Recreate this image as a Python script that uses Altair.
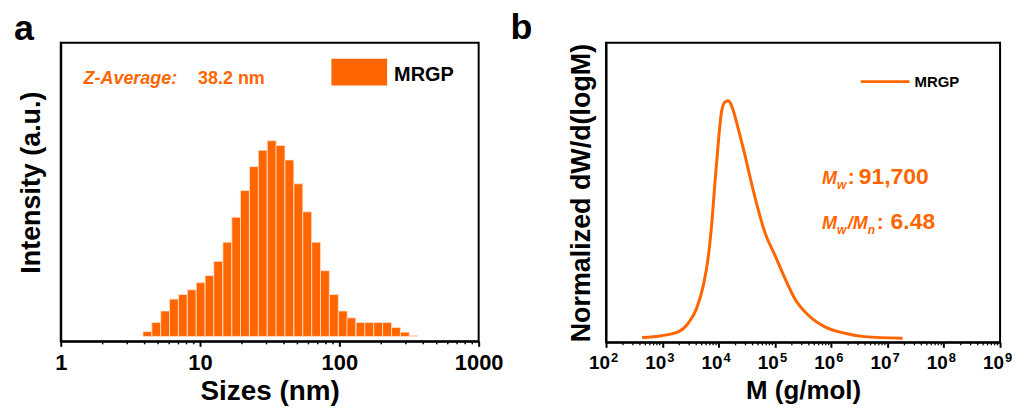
import altair as alt
import pandas as pd

ORANGE = "#FF6600"
FONT = "Liberation Sans"

# ---------------- data: panel a (DLS size distribution) ----------------
sizes_nm = [4.19, 4.85, 5.62, 6.50, 7.53, 8.72, 10.1, 11.7, 13.5, 15.7,
            18.2, 21.0, 24.4, 28.2, 32.7, 37.8, 43.8, 50.8, 58.8, 68.1,
            78.8, 91.3, 106, 122, 142, 164, 190, 220, 255, 295, 342]
intensity = [0.30, 0.85, 1.56, 2.29, 2.57, 2.86, 3.30, 3.73, 4.60, 5.78,
             7.31, 8.94, 10.41, 11.41, 12.0, 11.71, 10.82, 9.36, 7.64, 5.78,
             4.03, 2.57, 1.56, 1.14, 0.85, 0.85, 0.85, 0.85, 0.55, 0.26, 0.05]
size_ticks = [1, 10, 100, 1000]

# ---------------- data: panel b (GPC molecular weight distribution) ----------------
mass_g_mol = [437, 977, 1950, 2880, 4070, 5370, 6610, 7590, 8710, 10000,
              11200, 12900, 14800, 17000, 22400, 29500, 38000, 50100, 66100, 100000,
              151000, 224000, 389000, 759000, 1740000, 3890000, 18600000]
dw_dlogm = [0.003, 0.011, 0.028, 0.063, 0.126, 0.224, 0.350, 0.489, 0.671, 0.839,
            0.950, 0.994, 1.000, 0.979, 0.881, 0.769, 0.657, 0.545, 0.447, 0.350,
            0.252, 0.168, 0.098, 0.049, 0.021, 0.007, 0.0]
mass_exponents = [2, 3, 4, 5, 6, 7, 8, 9]

WA, HA = 420, 300
WB, HB = 396, 301


def txt(s, x, y, size, color="black", italic=False, align="left"):
    return alt.Chart(pd.DataFrame({"t": [s]})).mark_text(
        align=align, baseline="alphabetic", fontSize=size, fontWeight="bold",
        fontStyle="italic" if italic else "normal", font=FONT, color=color
    ).encode(x=alt.value(x), y=alt.value(y), text="t:N")


# ---------------- panel a ----------------
xa = alt.Scale(type="log", domain=[1, 1000], nice=False)
ya = alt.Scale(domain=[-0.3, 18], nice=False, zero=False)
axis_xa = alt.Axis(values=size_ticks, format="d", title="Sizes (nm)", tickSize=5,
                   labelFlush=False, labelFontSize=22, labelPadding=6,
                   titleFontSize=28, titlePadding=4)

df_a = pd.DataFrame({"size": sizes_nm, "intensity": intensity})
bars = alt.Chart(df_a).transform_calculate(
    lo="datum.size / 1.0761", hi="datum.size * 1.0761", base="0"
).mark_rect(color=ORANGE, stroke="#FFE2CC", strokeWidth=0.8).encode(
    x=alt.X("lo:Q", scale=xa, axis=axis_xa),
    x2="hi:Q",
    y=alt.Y("intensity:Q", scale=ya, axis=alt.Axis(
        title="Intensity (a.u.)", labels=False, ticks=False,
        titleFontSize=27, titlePadding=15, titleY=140)),
    y2="base:Q",
)

minor_a = [m * 10 ** e for e in range(0, 3) for m in range(2, 10)]
minor_a_rules = alt.Chart(pd.DataFrame({"v": minor_a})).mark_rule(
    color="black", strokeWidth=1.5
).encode(x=alt.X("v:Q", scale=xa, axis=axis_xa), y=alt.value(HA), y2=alt.value(HA + 3))

legend_a = alt.Chart(pd.DataFrame({"k": [0]})).mark_rect(color=ORANGE).encode(
    x=alt.value(272), x2=alt.value(328), y=alt.value(16), y2=alt.value(43))

panel_a = alt.layer(
    bars, minor_a_rules, legend_a,
    txt("MRGP", 335, 38, 20),
    txt("Z-Average:", 23, 41, 18, ORANGE, italic=True),
    txt("38.2 nm", 138, 41, 18, ORANGE),
    txt("a", -47, -3, 36),
).properties(width=WA, height=HA)

# ---------------- panel b ----------------
xb = alt.Scale(type="log", domain=[1e2, 1e9], nice=False)
yb = alt.Scale(domain=[-0.017, 1.244], nice=False, zero=False)
axis_xb = alt.Axis(values=[10 ** e for e in mass_exponents], labels=False, tickSize=5,
                   title="M (g/mol)", titleFontSize=26, titlePadding=29)

df_b = pd.DataFrame({"M": mass_g_mol, "W": dw_dlogm})
curve = alt.Chart(df_b).mark_line(color=ORANGE, strokeWidth=3, interpolate="monotone").encode(
    x=alt.X("M:Q", scale=xb, axis=axis_xb),
    y=alt.Y("W:Q", scale=yb, axis=alt.Axis(
        title="Normalized dW/d(logM)", labels=False, ticks=False,
        titleFontSize=27, titlePadding=11)),
)

minor_b = [m * 10 ** e for e in range(2, 9) for m in range(2, 10)]
minor_b_rules = alt.Chart(pd.DataFrame({"v": minor_b})).mark_rule(
    color="black", strokeWidth=1.3
).encode(x=alt.X("v:Q", scale=xb, axis=axis_xb), y=alt.value(HB), y2=alt.value(HB + 3))

df_lab = pd.DataFrame({"v": [10 ** e for e in mass_exponents],
                       "e": [str(e) for e in mass_exponents]})
lab_base = alt.Chart(df_lab).mark_text(
    text="10", align="right", baseline="alphabetic", dx=4, dy=27,
    fontSize=19, fontWeight="bold", font=FONT, color="black"
).encode(x=alt.X("v:Q", scale=xb, axis=axis_xb), y=alt.value(HB))
lab_exp = alt.Chart(df_lab).mark_text(
    align="left", baseline="alphabetic", dx=5, dy=20,
    fontSize=13, fontWeight="bold", font=FONT, color="black"
).encode(x=alt.X("v:Q", scale=xb, axis=axis_xb), y=alt.value(HB), text="e:N")

legend_b = alt.Chart(pd.DataFrame({"k": [0]})).mark_rule(color=ORANGE, strokeWidth=3).encode(
    x=alt.value(256), x2=alt.value(305), y=alt.value(39))

panel_b = alt.layer(
    curve, minor_b_rules, lab_base, lab_exp, legend_b,
    txt("MRGP", 310, 44, 15),
    txt("M", 217, 142, 18, ORANGE, italic=True),
    txt("w", 232, 147, 12, ORANGE, italic=True),
    txt(":", 243, 142, 21, ORANGE),
    txt("91,700", 254, 142, 23, ORANGE),
    txt("M", 217, 187, 18, ORANGE, italic=True),
    txt("w", 232, 192, 12, ORANGE, italic=True),
    txt("/", 243, 187, 18, ORANGE, italic=True),
    txt("M", 248, 187, 18, ORANGE, italic=True),
    txt("n", 263, 192, 12, ORANGE, italic=True),
    txt(":", 272, 187, 21, ORANGE),
    txt("6.48", 286, 187, 23, ORANGE),
    txt("b", -96, -4, 36),
).properties(width=WB, height=HB)

chart = alt.hconcat(panel_a, panel_b, spacing=128, bounds="flush").configure_view(
    stroke="black", strokeWidth=2
).configure_axis(
    labelFont=FONT, titleFont=FONT, labelFontWeight="bold", titleFontWeight="bold",
    labelColor="black", titleColor="black", domainColor="black", domainWidth=2,
    tickColor="black", tickWidth=2, grid=False
).properties(padding={"left": 5, "top": 0, "right": 0, "bottom": 0})

chart.save("out.html", embed_options={"renderer": "svg", "actions": False})
